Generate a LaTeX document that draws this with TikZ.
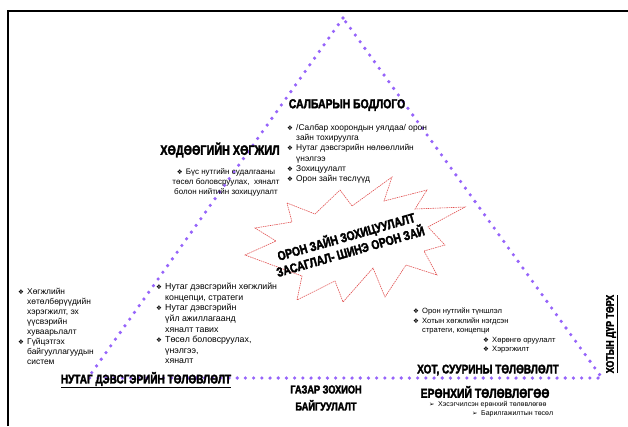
\documentclass[tikz,border=0pt]{standalone}
\usepackage{fontspec}
\setmainfont{Liberation Sans}
\newfontfamily\headfont[FakeStretch=0.8,BoldFeatures={FakeBold=2.5}]{Liberation Sans}
\newfontfamily\symfont{DejaVu Sans}
\definecolor{dotviolet}{RGB}{150,100,250}
\definecolor{burstred}{RGB}{225,80,80}
\newcommand{\bul}{\makebox[9pt][l]{\symfont\fontsize{6.5}{6.5}\selectfont ❖}}
\newcommand{\arr}{\makebox[9pt][l]{\symfont\fontsize{6.5}{6.5}\selectfont ➢}}
\newcommand{\ind}{\hspace*{9pt}}

\begin{document}
\begin{tikzpicture}[x=1pt, y=-1pt,
	head/.style = {inner sep=0pt, font=\headfont\bfseries\fontsize{#1}{#1}\selectfont},
	head/.default = 13,
	list/.style = {anchor=north west, align=left, inner sep=0pt},
	dotline/.style = {draw=dotviolet, line width=3.6pt, line cap=round, dash pattern=on 0pt off 8.2pt},
	burst/.style = {draw=burstred, fill=white, line width=0.6pt, dash pattern=on 1.5pt off 0.8pt},
]
\useasboundingbox (0,0) rectangle (628,426);
% frame
\draw[line width=1.6pt] (8,426) -- (8,11) -- (628,11);

% triangle
\coordinate (apex) at (343,18);
\coordinate (lv) at (88,378);
\coordinate (rv) at (602,378);
\draw[dotline] (apex) -- (lv) -- (rv) -- cycle;

% explosion in the middle
\draw[burst] (287,203) -- (315,214) -- (340,190) -- (352,206) -- (392,177) -- (384,201)
  -- (427,190) -- (415,209) -- (465,207) -- (428,227) -- (445,245) -- (424,251)
  -- (437,275) -- (406,265) -- (385,297) -- (373,268) -- (343,302) -- (335,281)
  -- (297,300) -- (302,276) -- (245,255) -- (276,241) -- (255,228) -- (292,222) -- cycle;
\node[head, rotate=16, align=center, font=\headfont\bfseries\fontsize{13}{14}\selectfont] (zasaglal) at (348,243)
  {ОРОН ЗАЙН ЗОХИЦУУЛАЛТ\\ЗАСАГЛАЛ- ШИНЭ ОРОН ЗАЙ};

% headings
\node[head] (salbar) at (347,105) {САЛБАРЫН БОДЛОГО};
\node[head=13.5] (khodoo) at (220,150) {ХӨДӨӨГИЙН ХӨГЖИЛ};
\node[head=12.5] (nutag) at (146,380) {\underline{НУТАГ ДЭВСГЭРИЙН ТӨЛӨВЛӨЛТ}};
\node[head=12.5] (khot) at (488,370) {ХОТ, СУУРИНЫ ТӨЛӨВЛӨЛТ};
\node[head] (eronkhii) at (485,392) {ЕРӨНХИЙ ТӨЛӨВЛӨГӨӨ};
\node[head, align=center, font=\headfont\bfseries\fontsize{11.5}{17}\selectfont] (gazar) at (326,398)
  {ГАЗАР ЗОХИОН\\БАЙГУУЛАЛТ};
\node[head=11, rotate=90] (durtorkh) at (612,334) {\underline{ХОТЫН ДҮР ТӨРХ}};

% bullet lists
\node[list, font=\fontsize{8.4}{10.3}\selectfont] (salbarlist) at (287,124)
  {\bul/Салбар хоорондын уялдаа/ орон\\\ind зайн тохируулга\\\bul Нутаг дэвсгэрийн нөлөөллийн\\\ind үнэлгээ\\\bul Зохицуулалт\\\bul Орон зайн төслүүд};
\node[anchor=north, align=center, inner sep=0pt, font=\fontsize{8}{10}\selectfont] (buslist) at (226,168)
  {\bul Бүс нутгийн судалгааны\\төсөл боловсруулах,\ \ хяналт\\болон нийтийн зохицуулалт};
\node[list, font=\fontsize{8.4}{10}\selectfont] (leftlist) at (18,288)
  {\bul Хөгжлийн\\\ind хөтөлбөрүүдийн\\\ind хэрэгжилт, эх\\\ind үүсвэрийн\\\ind хуваарьлалт\\\bul Гүйцэтгэх\\\ind байгууллагуудын\\\ind систем};
\node[list, font=\fontsize{8.8}{10.6}\selectfont] (nutaglist) at (156,283)
  {\bul Нутаг дэвсгэрийн хөгжлийн\\\ind концепци, стратеги\\\bul Нутаг дэвсгэрийн\\\ind үйл ажиллагаанд\\\ind хяналт тавих\\\bul Төсөл боловсруулах,\\\ind үнэлгээ,\\\ind хяналт};
\node[list, font=\fontsize{7.6}{9.5}\selectfont] (khotlist) at (413,308)
  {\bul Орон нутгийн түншлэл\\\bul Хотын хөгжлийн нэгдсэн\\\ind стратеги, концепци};
\node[list, font=\fontsize{7.6}{9.5}\selectfont] (khotsub) at (483,337)
  {\bul Хөрөнгө оруулалт\\\bul Хэрэгжилт};
\node[list, font=\fontsize{7}{9}\selectfont] (khesegch) at (429,401)
  {\arr Хэсэгчилсэн ерөнхий төлөвлөгөө};
\node[list, font=\fontsize{7}{9}\selectfont] (barilga) at (472,410)
  {\arr Барилгажилтын төсөл};
\end{tikzpicture}
\end{document}
